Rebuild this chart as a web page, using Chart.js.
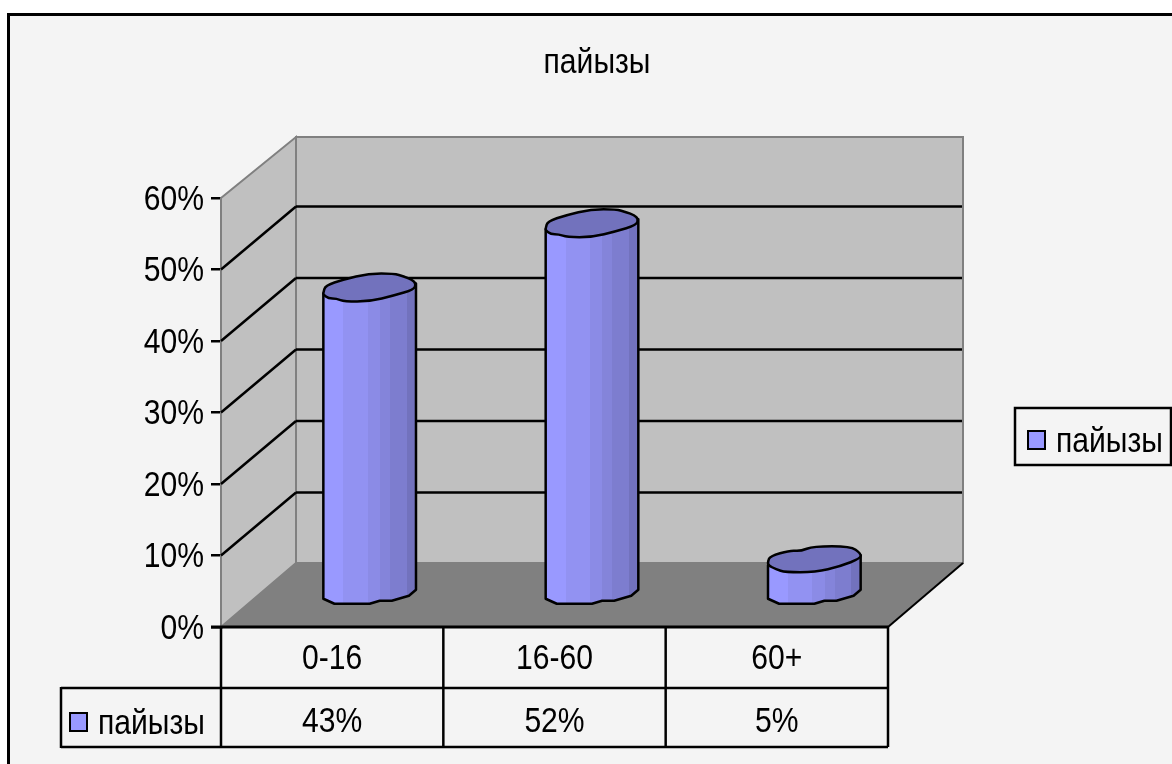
<!DOCTYPE html>
<html>
<head>
<meta charset="utf-8">
<style>
  html, body { margin: 0; padding: 0; background: #fff; }
  canvas { display: block; }
</style>
<script src="https://cdn.jsdelivr.net/npm/chart.js@4"></script>
</head>
<body>
<canvas id="chart" width="1172" height="764"></canvas>
<script>
var categories = ["0-16", "16-60", "60+"];
var values = [43, 52, 5];
var seriesName = "пайызы";
var yTicks = [0, 10, 20, 30, 40, 50, 60];

var FONT = '35px "Liberation Sans", Arial, sans-serif';
var depthX = 75, depthY = 64;

// facet colours of the cylinder, left to right (position is fraction of width)
var facets = [
  [0, "#9999ff"], [0.215, "#9292f2"], [0.48, "#8b8be6"], [0.61, "#8484da"],
  [0.72, "#7d7dcf"], [0.90, "#7272bd"]
];
// outline of the cylinder ends, offsets from the centre with half width 46
var topShape = [[-46,5],[-44,-2],[-26,-8],[-1,-14],[24,-14],[34,-11],[42,-8],[46,-4],[44,2],[24,8],[0,14],[-25,14],[-33,11],[-41,11],[-46,7]];
var topShapeLow = [[-46,2],[-44,-3],[-24,-9],[-14,-8],[-1,-13],[36,-13],[46,-6],[46,-1],[26,7],[1,13],[-29,13],[-38,10],[-46,6]];
var bottomShape = [[-46,5],[-35,10],[0,10],[10,7],[22,7],[39,2],[46,-4]];

function line(c, x1, y1, x2, y2, color, w) {
  c.strokeStyle = color;
  c.lineWidth = w;
  c.beginPath();
  c.moveTo(x1, y1);
  c.lineTo(x2, y2);
  c.stroke();
}

function poly(c, pts, fill, stroke, w) {
  c.beginPath();
  pts.forEach(function (p, i) {
    if (i == 0) c.moveTo(p[0], p[1]);
    else c.lineTo(p[0], p[1]);
  });
  c.closePath();
  c.fillStyle = fill;
  c.fill();
  if (stroke) {
    c.strokeStyle = stroke;
    c.lineWidth = w;
    c.stroke();
  }
}

// closed outline rounded through the midpoints
function blob(c, pts, fill, stroke, w) {
  var n = pts.length;
  c.beginPath();
  c.moveTo((pts[n - 1][0] + pts[0][0]) / 2, (pts[n - 1][1] + pts[0][1]) / 2);
  pts.forEach(function (p, i) {
    var q = pts[(i + 1) % n];
    c.quadraticCurveTo(p[0], p[1], (p[0] + q[0]) / 2, (p[1] + q[1]) / 2);
  });
  c.closePath();
  c.fillStyle = fill;
  c.fill();
  c.strokeStyle = stroke;
  c.lineWidth = w;
  c.stroke();
}

function legendKey(c, x, y) {
  c.fillStyle = "#9999ff";
  c.fillRect(x, y, 17, 18);
  c.strokeStyle = "#000";
  c.lineWidth = 2;
  c.strokeRect(x, y, 17, 18);
}

// back wall, side wall, floor
var wallsPlugin = {
  id: "walls",
  beforeDatasetsDraw: function (chart) {
    var c = chart.ctx, a = chart.chartArea, y = chart.scales.y;
    var wallTop = a.top - depthY + 3;
    c.save();
    poly(c, [[a.left, a.top], [a.left + depthX, wallTop], [a.left + depthX, a.bottom - depthY], [a.left, a.bottom]], "#c0c0c0", "#808080", 2);
    poly(c, [[a.left + depthX, wallTop], [a.right + depthX, wallTop], [a.right + depthX, a.bottom - depthY], [a.left + depthX, a.bottom - depthY]], "#c0c0c0", "#808080", 2);
    poly(c, [[a.left, a.bottom], [a.right, a.bottom], [a.right + depthX, a.bottom - depthY], [a.left + depthX, a.bottom - depthY]], "#808080");
    line(c, a.right, a.bottom, a.right + depthX, a.bottom - depthY, "#000", 2);
    yTicks.forEach(function (t) {
      if (t == 0 || t == 60) return;
      var py = y.getPixelForValue(t);
      line(c, a.left, py, a.left + depthX, py - depthY + 1, "#000", 2.5);
      line(c, a.left + depthX, py - depthY + 1, a.right + depthX - 1, py - depthY + 1, "#000", 2.5);
    });
    c.restore();
  }
};

// cylinders use the position the bar elements get from the scales
var cylinderPlugin = {
  id: "cylinders",
  afterDatasetsDraw: function (chart) {
    var c = chart.ctx;
    var bars = chart.getDatasetMeta(0).data;
    c.save();
    c.lineJoin = "round";
    bars.forEach(function (bar, i) {
      var hw = bar.width / 2;
      var k = hw / 46;
      var cx = bar.x + depthX / 2;
      var top = bar.y - depthY / 2;
      var base = bar.base - depthY / 2;
      var body = [[cx - hw, top + 6]];
      bottomShape.forEach(function (p) { body.push([cx + p[0] * k, base + p[1]]); });
      body.push([cx + hw, top - 4]);
      var g = c.createLinearGradient(cx - hw, 0, cx + hw, 0);
      facets.forEach(function (f, j) {
        g.addColorStop(f[0], f[1]);
        g.addColorStop(j + 1 < facets.length ? facets[j + 1][0] : 1, f[1]);
      });
      poly(c, body, g, "#000", 2.5);
      var shape = i == 2 ? topShapeLow : topShape;
      blob(c, shape.map(function (p) { return [cx + p[0] * k, top + p[1]]; }), "#7272bd", "#000", 2.5);
    });
    c.restore();
  }
};

// title, data table and legend box, drawn over the chart
var textPlugin = {
  id: "tableAndLegend",
  afterDraw: function (chart) {
    var c = chart.ctx, a = chart.chartArea, x = chart.scales.x;
    c.save();
    // frame, only left and top are inside the picture
    line(c, 8.5, 14.5, 1172, 14.5, "#000", 3);
    line(c, 8.5, 13, 8.5, 764, "#000", 3);

    c.font = FONT;
    c.fillStyle = "#000";
    c.textBaseline = "middle";
    c.textAlign = "center";
    c.fillText(seriesName, 597, 63);

    // data table
    var row1 = a.bottom + 61, row2 = a.bottom + 120;
    line(c, a.left - 160, row1, a.right, row1, "#000", 2.5);
    line(c, a.left - 160, row2, a.right, row2, "#000", 2.5);
    line(c, a.left - 160, row1 - 1, a.left - 160, row2 + 1, "#000", 2.5);
    line(c, a.left, a.bottom, a.left, row2, "#000", 2.5);
    line(c, a.right, a.bottom, a.right, row2, "#000", 2.5);
    var w = (a.right - a.left) / categories.length;
    for (var i = 1; i < categories.length; i++) {
      line(c, a.left + w * i, a.bottom, a.left + w * i, row2, "#000", 2.5);
    }
    line(c, a.left - 10, a.bottom, a.right, a.bottom, "#000", 3);
    c.fillStyle = "#000";
    values.forEach(function (v, i) {
      c.fillText(v + "%", x.getPixelForValue(i), row1 + 34);
    });
    legendKey(c, a.left - 151, row1 + 25);
    c.fillStyle = "#000";
    c.textAlign = "left";
    c.fillText(seriesName, a.left - 123, row1 + 36);

    // legend box
    c.strokeStyle = "#000";
    c.lineWidth = 2.5;
    c.strokeRect(1015, 408, 156, 57);
    legendKey(c, 1028, 431);
    c.fillStyle = "#000";
    c.fillText(seriesName, 1056, 442);
    c.restore();
  }
};

var ctx = document.getElementById("chart").getContext("2d");

// The reference text is taller than it is wide, so every label is squeezed
var plainFillText = ctx.fillText;
ctx.fillText = function (t, x, y) {
  plainFillText.call(ctx, t, x, y, ctx.measureText(t).width * 0.86);
};

new Chart(ctx, {
  type: "bar",
  data: {
    labels: categories,
    datasets: [{
      label: seriesName,
      data: values,
      backgroundColor: "rgba(0,0,0,0)",
      barPercentage: 0.4167,
      categoryPercentage: 1
    }]
  },
  plugins: [{
    id: "pageBg",
    beforeDraw: function (chart) {
      var c = chart.ctx;
      c.save();
      c.fillStyle = "#f4f4f4";
      c.fillRect(8, 14, 1164, 750);
      c.restore();
    }
  }, wallsPlugin, cylinderPlugin, textPlugin],
  options: {
    responsive: false,
    animation: false,
    layout: { padding: { left: 71, right: 284, top: 198, bottom: 76 } },
    plugins: {
      legend: { display: false },
      title: { display: false },
      tooltip: { enabled: false }
    },
    scales: {
      x: {
        grid: { display: false },
        border: { display: false },
        ticks: { color: "#000", font: { family: "Liberation Sans", size: 35 }, padding: 3, maxRotation: 0 },
        afterFit: function (s) { s.height = 61; }
      },
      y: {
        min: 0,
        max: 60,
        afterBuildTicks: function (s) { s.ticks = yTicks.map(function (v) { return { value: v }; }); },
        grid: { drawOnChartArea: false, color: "#000", lineWidth: 2.5, tickLength: 10 },
        border: { color: "#000", width: 2.5 },
        ticks: {
          color: "#000",
          font: { family: "Liberation Sans", size: 35 },
          padding: 7,
          labelOffset: 2,
          callback: function (v) { return v + "%"; }
        },
        afterFit: function (s) { s.width = 150; }
      }
    }
  }
});
</script>
</body>
</html>
